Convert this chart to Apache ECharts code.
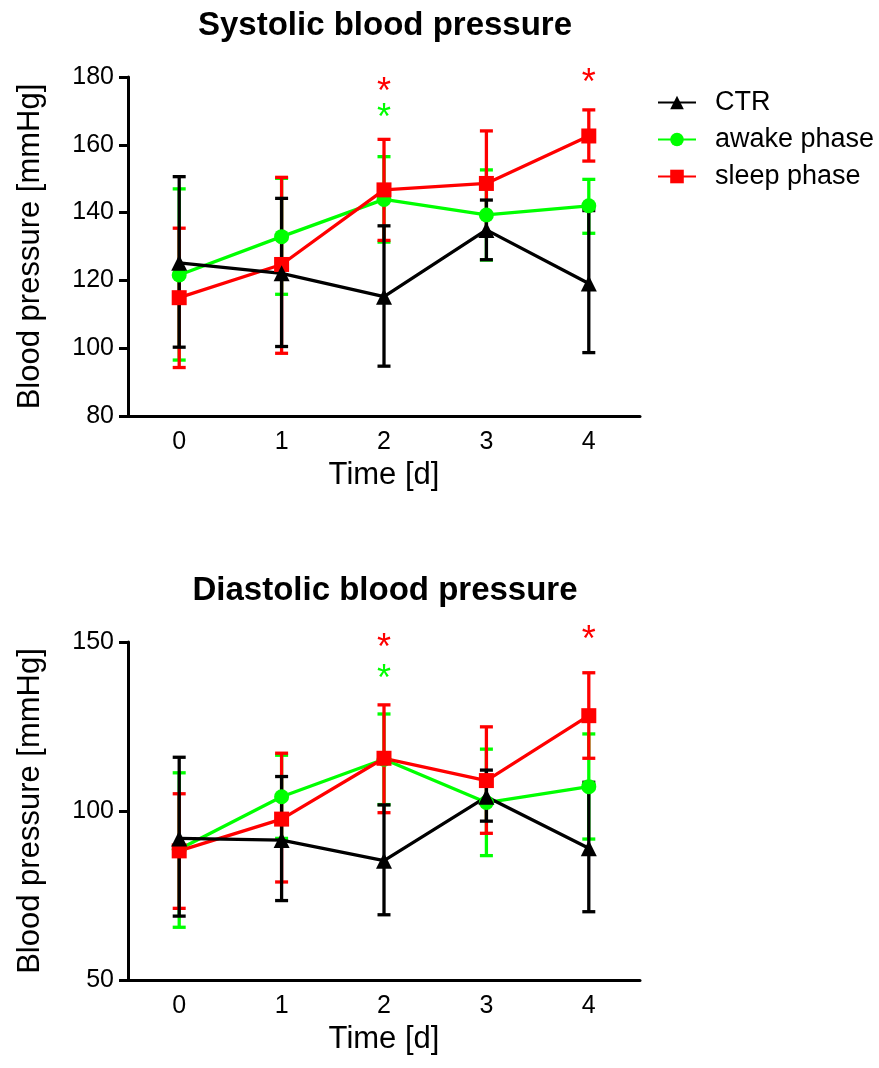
<!DOCTYPE html>
<html>
<head>
<meta charset="utf-8">
<script src="https://cdn.jsdelivr.net/npm/echarts@6/dist/echarts.min.js"></script>
<style>html,body{margin:0;padding:0;background:#fff;}#c{width:879px;height:1068px;}</style>
</head>
<body>
<div id="c"></div>
<script>
const categories = ['0', '1', '2', '3', '4'];
const seriesNames = ['CTR', 'awake phase', 'sleep phase'];
const sysTicks = [80, 100, 120, 140, 160, 180];
const diaTicks = [50, 100, 150];

// Systolic
const sysCTR = [125.2, 122.1, 115.2, 134.9, 119.1];
const sysCTRHi = [150.6, 144.2, 136.1, 143.7, 140.6];
const sysCTRLo = [100.3, 100.5, 94.7, 126.1, 98.7];
const sysAwake = [121.6, 132.9, 143.9, 139.3, 142.0];
const sysAwakeHi = [147.0, 150.1, 156.5, 152.6, 149.8];
const sysAwakeLo = [96.5, 115.9, 131.3, 126.0, 133.9];
const sysSleep = [114.9, 124.7, 146.7, 148.6, 162.6];
const sysSleepHi = [135.4, 150.4, 161.6, 164.1, 170.3];
const sysSleepLo = [94.3, 98.5, 131.8, 133.1, 155.2];
const sysStarsRed = [[2, 177.6], [4, 180.3]];
const sysStarsGreen = [[2, 169.8]];

// Diastolic
const diaCTR = [91.9, 91.4, 85.3, 104.2, 89.0];
const diaCTRHi = [115.9, 110.2, 101.8, 112.1, 108.5];
const diaCTRLo = [68.9, 73.5, 69.3, 97.0, 70.2];
const diaAwake = [88.7, 104.2, 115.3, 102.5, 107.2];
const diaAwakeHi = [111.3, 116.5, 128.7, 118.3, 122.8];
const diaAwakeLo = [65.6, 91.9, 101.9, 86.8, 91.7];
const diaSleep = [88.2, 97.6, 115.6, 109.0, 128.2];
const diaSleepHi = [105.1, 117.1, 131.4, 124.9, 140.9];
const diaSleepLo = [71.2, 79.0, 99.5, 93.4, 115.6];
const diaStarsRed = [[2, 150.2], [4, 152.6]];
const diaStarsGreen = [[2, 141.2]];

const FONT = 'Liberation Sans, Arial, Helvetica, sans-serif';
const BLACK = '#000000', GREEN = '#00ff00', RED = '#ff0000';

function errSeries(idx, lo, hi, color) {
  return {
    type: 'custom', xAxisIndex: idx, yAxisIndex: idx,
    data: lo.map((v, i) => [i, v, hi[i]]),
    encode: { x: 0, y: [1, 2] },
    renderItem: function (params, api) {
      const x = api.value(0);
      const l = api.coord([x, api.value(1)]);
      const h = api.coord([x, api.value(2)]);
      const w = 6.5;
      const st = { stroke: color, lineWidth: 3.3 };
      return {
        type: 'group',
        children: [
          { type: 'line', shape: { x1: l[0], y1: l[1], x2: h[0], y2: h[1] }, style: st },
          { type: 'line', shape: { x1: l[0] - w, y1: l[1], x2: l[0] + w, y2: l[1] }, style: st },
          { type: 'line', shape: { x1: h[0] - w, y1: h[1], x2: h[0] + w, y2: h[1] }, style: st }
        ]
      };
    },
    silent: true
  };
}

function lineSeries(name, idx, data, color, symbol, size) {
  return {
    type: 'line', name: name, xAxisIndex: idx, yAxisIndex: idx,
    data: data, symbol: symbol, symbolSize: size, showAllSymbol: true,
    lineStyle: { color: color, width: 3.3 },
    itemStyle: { color: color, opacity: 1 },
    emphasis: { disabled: true }
  };
}

function starSeries(idx, data, color) {
  return {
    type: 'custom', xAxisIndex: idx, yAxisIndex: idx, clip: false,
    data: data, encode: { x: 0, y: 1 },
    renderItem: function (params, api) {
      const p = api.coord([api.value(0), api.value(1)]);
      return {
        type: 'text', x: p[0], y: p[1] + 8,
        style: { text: '*', fill: color, font: '36px ' + FONT,
                 align: 'center', verticalAlign: 'middle',
                 textAlign: 'center', textVerticalAlign: 'middle' }
      };
    },
    silent: true, z: 5
  };
}

function xAxis(idx) {
  return {
    type: 'category', gridIndex: idx, data: categories, boundaryGap: true,
    name: 'Time [d]', nameLocation: 'middle', nameGap: 44,
    nameTextStyle: { fontSize: 31, color: BLACK, fontFamily: FONT },
    axisLine: { lineStyle: { color: BLACK, width: 3 } },
    axisTick: { alignWithLabel: true, length: 9, lineStyle: { color: BLACK, width: 3 } },
    axisLabel: { fontSize: 25, color: BLACK, fontFamily: FONT, margin: 14, interval: 0 },
    splitLine: { show: false }
  };
}

function yAxis(idx, min, max, interval) {
  return {
    type: 'value', gridIndex: idx, min: min, max: max, interval: interval,
    name: 'Blood pressure [mmHg]', nameLocation: 'middle', nameGap: 82,
    nameTextStyle: { fontSize: 31, color: BLACK, fontFamily: FONT },
    axisLine: { show: true, lineStyle: { color: BLACK, width: 3 } },
    axisTick: { show: true, length: 9, lineStyle: { color: BLACK, width: 3 } },
    axisLabel: { fontSize: 25, color: BLACK, fontFamily: FONT, margin: 14 },
    splitLine: { show: false }
  };
}

const chart = echarts.init(document.getElementById('c'), null, { renderer: 'canvas' });
chart.setOption({
  animation: false,
  backgroundColor: '#ffffff',
  textStyle: { fontFamily: FONT },
  title: [
    { text: 'Systolic blood pressure', left: 385, top: 9, textAlign: 'center', padding: 0,
      textStyle: { fontSize: 33, fontWeight: 'bold', color: BLACK, fontFamily: FONT } },
    { text: 'Diastolic blood pressure', left: 385, top: 574, textAlign: 'center', padding: 0,
      textStyle: { fontSize: 33, fontWeight: 'bold', color: BLACK, fontFamily: FONT } }
  ],
  legend: {
    data: seriesNames, orient: 'vertical', left: 657, top: 89, padding: 0,
    itemWidth: 38, itemHeight: 17, itemGap: 10,
    textStyle: { fontSize: 27, color: BLACK, fontFamily: FONT, padding: [0, 0, 0, 14] },
    selectedMode: false
  },
  grid: [
    { left: 128, top: 77, width: 512, height: 339 },
    { left: 128, top: 642, width: 512, height: 338 }
  ],
  xAxis: [xAxis(0), xAxis(1)],
  yAxis: [yAxis(0, sysTicks[0], sysTicks[sysTicks.length - 1], 20),
          yAxis(1, diaTicks[0], diaTicks[diaTicks.length - 1], 50)],
  series: [
    errSeries(0, sysAwakeLo, sysAwakeHi, GREEN),
    lineSeries('awake phase', 0, sysAwake, GREEN, 'circle', 15),
    errSeries(0, sysSleepLo, sysSleepHi, RED),
    lineSeries('sleep phase', 0, sysSleep, RED, 'rect', 15),
    errSeries(0, sysCTRLo, sysCTRHi, BLACK),
    lineSeries('CTR', 0, sysCTR, BLACK, 'triangle', 16),
    starSeries(0, sysStarsRed, RED),
    starSeries(0, sysStarsGreen, GREEN),

    errSeries(1, diaAwakeLo, diaAwakeHi, GREEN),
    lineSeries('awake phase', 1, diaAwake, GREEN, 'circle', 15),
    errSeries(1, diaSleepLo, diaSleepHi, RED),
    lineSeries('sleep phase', 1, diaSleep, RED, 'rect', 15),
    errSeries(1, diaCTRLo, diaCTRHi, BLACK),
    lineSeries('CTR', 1, diaCTR, BLACK, 'triangle', 16),
    starSeries(1, diaStarsRed, RED),
    starSeries(1, diaStarsGreen, GREEN)
  ]
});
</script>
</body>
</html>
